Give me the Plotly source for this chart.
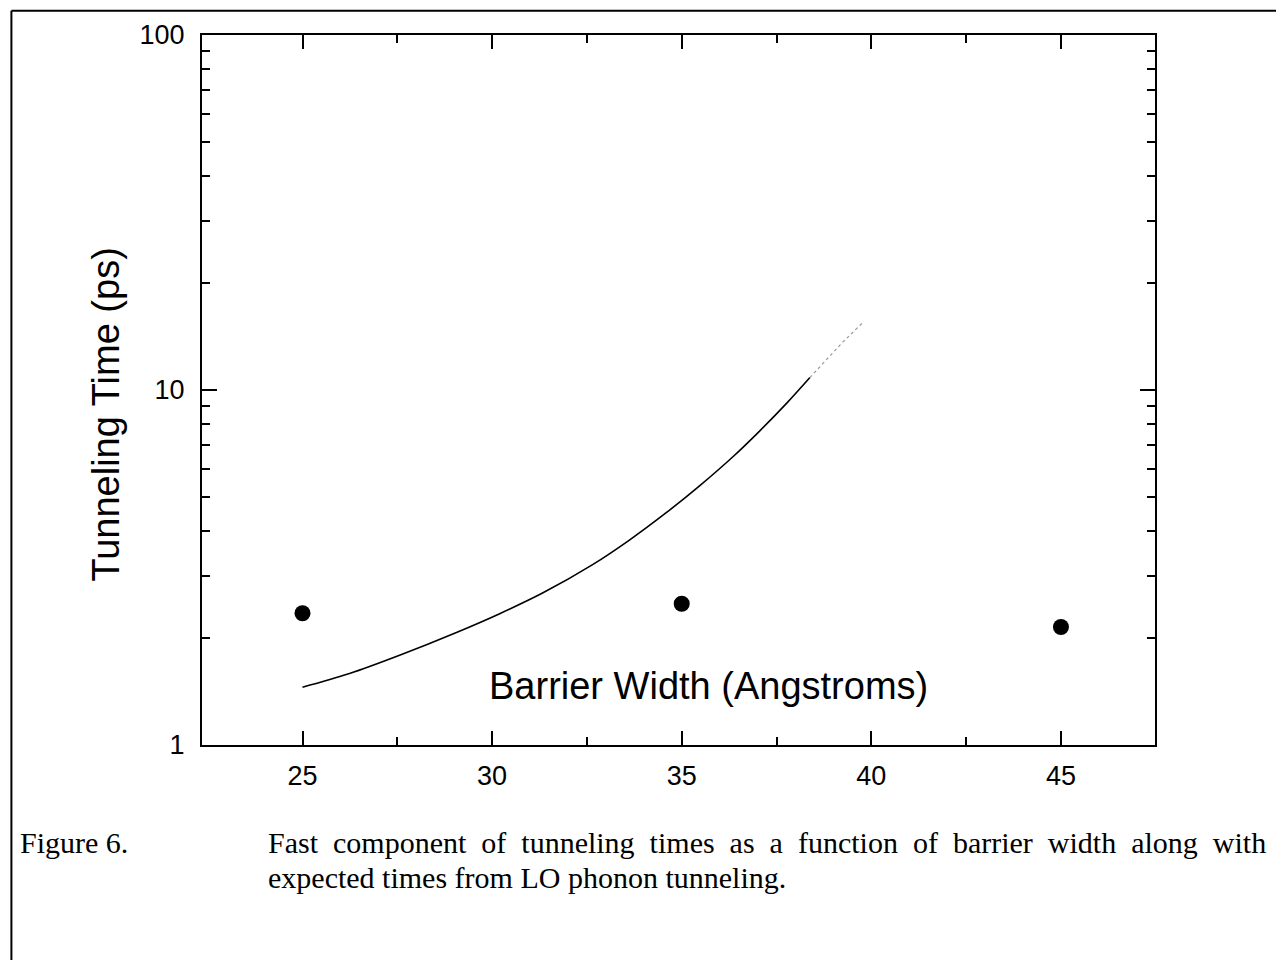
import plotly.graph_objects as go

# Measured data (barrier width in Angstroms, fast tunneling time in ps)
widths = [25, 35, 45]
fast_times = [2.35, 2.50, 2.15]

# Expected LO-phonon tunneling times (solid part of the curve)
curve_x = [25.0, 26.24, 27.56, 29.06, 30.2, 31.33, 32.65, 33.63, 34.6, 35.47, 36.35, 37.06, 37.77, 38.38]
curve_y = [1.455, 1.59, 1.79, 2.075, 2.344, 2.679, 3.221, 3.784, 4.519, 5.370, 6.486, 7.674, 9.183, 10.84]

# faint continuation of the curve
ext_x = [38.38, 38.9, 39.22, 39.75]
ext_y = [10.84, 12.45, 13.55, 15.4]

x_ticks = [25, 30, 35, 40, 45]
y_ticks = [1, 10, 100]
y_minor = [v * d for d in (1, 10) for v in range(2, 10)]

SANS = "Liberation Sans, Arial, Helvetica, sans-serif"
SERIF = "Liberation Serif, Times New Roman, serif"

fig = go.Figure()
fig.add_trace(go.Scatter(x=curve_x, y=curve_y, mode="lines", line_shape="spline",
                         line=dict(color="black", width=1.6), showlegend=False))
fig.add_trace(go.Scatter(x=ext_x, y=ext_y, mode="lines",
                         line=dict(color="#999999", width=1.2, dash="dot"), showlegend=False))
fig.add_trace(go.Scatter(x=widths, y=fast_times, mode="markers",
                         marker=dict(color="black", size=16), showlegend=False))

fig.update_layout(
    width=1276, height=960,
    margin=dict(l=202, r=121, t=35, b=215),
    paper_bgcolor="white", plot_bgcolor="white",
    font=dict(family=SANS, color="black"),
    xaxis=dict(
        range=[22.35, 47.48], tickvals=x_ticks, ticks="inside", ticklen=14, tickwidth=2,
        tickcolor="black", showline=True, linecolor="black", linewidth=2, mirror="ticks",
        showgrid=False, zeroline=False, tickfont=dict(size=27, family=SANS),
        ticklabelstandoff=6,
        minor=dict(tickvals=[27.5, 32.5, 37.5, 42.5], ticks="inside", ticklen=8,
                   tickwidth=2, tickcolor="black", showgrid=False),
    ),
    yaxis=dict(
        type="log", range=[0, 2], tickvals=y_ticks, ticktext=["1", "10", "100"],
        ticks="inside", ticklen=15, tickwidth=2, tickcolor="black",
        showline=True, linecolor="black", linewidth=2, mirror="ticks",
        showgrid=False, zeroline=False, tickfont=dict(size=27, family=SANS),
        ticklabelstandoff=10,
        minor=dict(tickvals=y_minor, ticks="inside", ticklen=8, tickwidth=2,
                   tickcolor="black", showgrid=False),
    ),
)

# y-axis title (placed as in the original, slightly below axis centre)
fig.add_annotation(text="Tunneling Time (ps)", xref="paper", yref="paper",
                   x=-0.101, y=0.465, xanchor="center", yanchor="middle", textangle=-90,
                   showarrow=False, font=dict(size=38, family=SANS, color="black"))

# x-axis title drawn inside the plot area
fig.add_annotation(text="Barrier Width (Angstroms)", xref="paper", yref="paper",
                   x=0.531, y=0.083, xanchor="center", yanchor="middle", showarrow=False,
                   font=dict(size=38, family=SANS, color="black"))

# caption
fig.add_annotation(text="Figure 6.", xref="paper", yref="paper", x=-0.193, y=-0.138,
                   xanchor="left", yanchor="middle", showarrow=False,
                   font=dict(size=30, family=SERIF, color="black"))
line1_words = ["Fast", "component", "of", "tunneling", "times", "as", "a", "function",
               "of", "barrier", "width", "along", "with"]
fig.add_annotation(text="\u00a0 ".join(line1_words), xref="paper", yref="paper",
                   x=0.0672, y=-0.138, xanchor="left", yanchor="middle", showarrow=False,
                   font=dict(size=30, family=SERIF, color="black"))
fig.add_annotation(text="expected times from LO phonon tunneling.", xref="paper", yref="paper",
                   x=0.0672, y=-0.1873, xanchor="left", yanchor="middle", showarrow=False,
                   font=dict(size=30, family=SERIF, color="black"))

# page border lines of the scanned figure
fig.add_shape(type="line", xref="paper", yref="paper", x0=-0.2, x1=1.13, y0=1.034, y1=1.034,
              line=dict(color="black", width=2))
fig.add_shape(type="line", xref="paper", yref="paper", x0=-0.2, x1=-0.2, y0=1.034, y1=-0.303,
              line=dict(color="black", width=2))

fig.write_html("out.html")
